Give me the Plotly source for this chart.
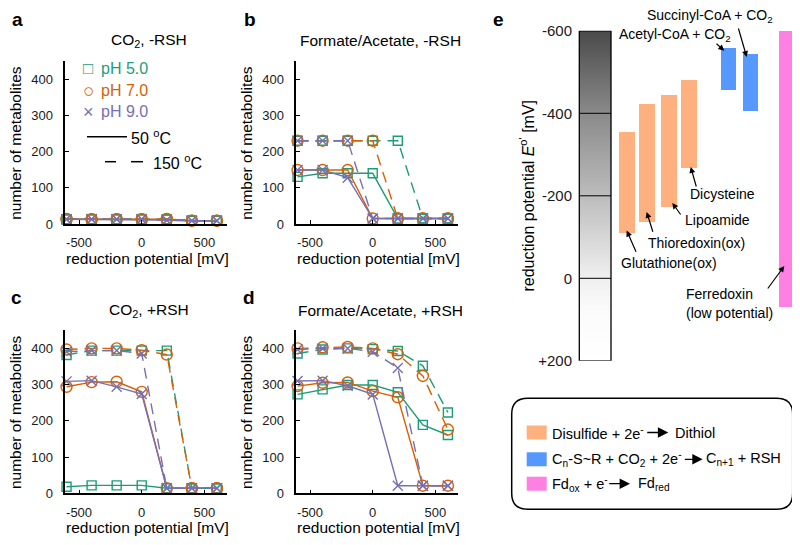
import plotly.graph_objects as go

W, H = 800, 545
OX, OY = 8, 8  # the page body adds an 8 px margin around the figure

# ---- data for panels a-d (number of metabolites) ----
potential_mv = [-600, -400, -200, 0, 200, 400, 600]
ph_names = ["pH 5.0", "pH 7.0", "pH 9.0"]

# rows: pH 5.0, pH 7.0, pH 9.0
a_50C = [[13, 13, 13, 13, 12, 9, 9], [13, 13, 13, 13, 13, 9, 9], [13, 13, 13, 13, 11, 9, 9]]
a_150C = [[13, 13, 13, 13, 13, 9, 9], [14, 13, 13, 13, 14, 9, 9], [13, 13, 13, 13, 10, 9, 9]]

b_50C = [[130, 140, 140, 140, 15, 15, 15], [149, 149, 149, 15, 15, 15, 15], [149, 149, 128, 15, 15, 15, 15]]
b_150C = [[230, 230, 230, 230, 230, 15, 15], [230, 230, 230, 230, 15, 15, 15], [230, 230, 230, 15, 15, 15, 15]]

c_50C = [[18, 22, 22, 22, 14, 14, 14], [294, 307, 308, 280, 14, 14, 14], [309, 311, 294, 274, 14, 14, 14]]
c_150C = [[382, 394, 394, 394, 394, 14, 14], [397, 400, 400, 395, 383, 14, 14], [391, 394, 394, 386, 14, 14, 14]]

d_50C = [[273, 287, 299, 299, 279, 189, 161], [296, 305, 306, 282, 265, 21, 21], [310, 311, 297, 273, 21, 21, 21]]
d_150C = [[386, 397, 400, 398, 393, 352, 223], [400, 403, 404, 400, 384, 324, 176], [397, 400, 400, 391, 346, 21, 21]]

panel_titles = ["CO<sub>2</sub>, -RSH", "Formate/Acetate, -RSH", "CO<sub>2</sub>, +RSH", "Formate/Acetate, +RSH"]

# ---- data for panel e (reduction potentials, mV) ----
scale_ticks = [-600, -400, -200, 0, 200]
scale_labels = ["-600", "-400", "-200", "0", "+200"]
disulfide_names = ["Glutathione(ox)", "Thioredoxin(ox)", "Lipoamide", "Dicysteine"]
disulfide_low = [-354, -422, -444, -481]
disulfide_high = [-110, -137, -174, -267]
thioester_names = ["Acetyl-CoA + CO<sub>2</sub>", "Succinyl-CoA + CO<sub>2</sub>"]
thioester_low = [-559, -544]
thioester_high = [-456, -406]
ferredoxin_low = [-600]
ferredoxin_high = [70]

FONT = "Liberation Sans, Arial, Helvetica, sans-serif"
colors = ["#1b9e77", "#d95f02", "#7570b3"]
symbols = ["square-open", "circle-open", "x-thin"]
msizes = [9, 11, 10]
MV_PX = 0.1253  # pixels per mV on panels a-d


def px(x):
    return (x - OX) / W


def py(y):
    return 1 - (y - OY) / H


fig = go.Figure()

# panel geometry in screen pixels: (left, right, top, bottom)
boxes = [(65.3, 227, 61, 224), (296.3, 458, 61, 224), (65.3, 227, 330.3, 493.3), (296.3, 458, 330.3, 493.3)]
panels = [(a_50C, a_150C), (b_50C, b_150C), (c_50C, c_150C), (d_50C, d_150C)]

for i, (solid, dashed) in enumerate(panels):
    n = i + 1
    xa = "x" if n == 1 else f"x{n}"
    ya = "y" if n == 1 else f"y{n}"
    for series, dash in ((solid, "solid"), (dashed, "11px,7px")):
        for k in range(3):
            fig.add_trace(go.Scatter(
                x=potential_mv, y=series[k], xaxis=xa, yaxis=ya,
                mode="lines+markers", cliponaxis=False, showlegend=False,
                line=dict(color=colors[k], width=1.4, dash=dash),
                marker=dict(symbol=symbols[k], size=msizes[k], color=colors[k],
                            line=dict(color=colors[k], width=1.4)),
            ))
    l, r, t, b = boxes[i]
    xkey = "xaxis" if n == 1 else f"xaxis{n}"
    ykey = "yaxis" if n == 1 else f"yaxis{n}"
    fig.layout[xkey] = dict(
        domain=[px(l), px(r)], range=[-610, -610 + (r - l) / MV_PX], anchor=ya, automargin=False,
        tickvals=[-500, 0, 500], ticktext=["-500", "0", "500"], ticks="inside", ticklen=4,
        tickcolor="black", showline=True, linecolor="black", linewidth=1.5,
        showgrid=False, zeroline=False, ticklabelstandoff=6,
        tickfont=dict(family=FONT, size=13, color="#1a1a1a"))
    fig.layout[ykey] = dict(
        domain=[py(b), py(t)], range=[0, 450], anchor=xa, automargin=False,
        tickvals=[0, 100, 200, 300, 400], ticks="inside", ticklen=4,
        tickcolor="black", showline=True, linecolor="black", linewidth=1.5,
        showgrid=False, zeroline=False, ticklabelstandoff=8,
        tickfont=dict(family=FONT, size=13, color="#1a1a1a"))

annotations = []


def text(x, y, s, size=16, **kw):
    d = dict(x=px(x), y=py(y), xref="paper", yref="paper", text=s, showarrow=False,
             xanchor="center", yanchor="middle",
             font=dict(family=FONT, size=size, color=kw.pop("color", "black")))
    d.update(kw)
    annotations.append(d)


def arrow(x0, y0, x1, y1, head=2, size=1.0, width=1.2):
    annotations.append(dict(x=px(x1), y=py(y1), xref="paper", yref="paper", text="",
                            showarrow=True, ax=x0 - x1, ay=y0 - y1, arrowhead=head,
                            arrowsize=size, arrowwidth=width, arrowcolor="black"))


# panel letters
for s, (x, y) in zip("abcde", [(17, 19), (250, 19), (16, 297), (249, 297), (498, 19)]):
    text(x, y, f"<b>{s}</b>", size=19)

# titles & axis labels
for i, (l, r, t, b) in enumerate(boxes):
    cx = 147 if i % 2 == 0 else 378
    text(cx + 2, t - 20, panel_titles[i], size=15.5)
    text(cx, b + 34, "reduction potential [mV]", size=15.5)
    text(l - 50, (t + b) / 2, "number of metabolites", size=15.5, textangle=-90)

# legend inside panel a
glyphs = [("\u25A1", 17), ("\u25CB", 19), ("\u00D7", 18)]
for k in range(3):
    g, gs = glyphs[k]
    text(88, [68, 90.7, 111.7][k], g, size=gs, color=colors[k])
    text(99, [68, 90.7, 111.7][k], ph_names[k], size=16, color=colors[k], xanchor="left")
text(129, 136.7, "50 <sup>o</sup>C", size=16, xanchor="left")
text(151, 161.7, "150 <sup>o</sup>C", size=16, xanchor="left")
shapes = [
    dict(type="line", xref="paper", yref="paper", x0=px(87), x1=px(127), y0=py(136.7), y1=py(136.7),
         line=dict(color="black", width=1.5)),
    dict(type="line", xref="paper", yref="paper", x0=px(105), x1=px(116), y0=py(161.7), y1=py(161.7),
         line=dict(color="black", width=1.5)),
    dict(type="line", xref="paper", yref="paper", x0=px(131), x1=px(143), y0=py(161.7), y1=py(161.7),
         line=dict(color="black", width=1.5)),
]

# ---- panel e ----
ORANGE, BLUE, PINK = "#ffb07f", "#5599ff", "#ff80e3"
fig.add_trace(go.Scatter(
    x=[579.3, 611, 611, 579.3, 579.3], y=[-600, -600, 200, 200, -600], xaxis="x5", yaxis="y5",
    mode="lines", fill="toself", showlegend=False, line=dict(color="black", width=1.3),
    fillgradient=dict(type="vertical", start=-600, stop=200,
                      colorscale=[[0, "#4a4a4a"], [0.25, "#8a8a8a"], [0.5, "#bcbcbc"],
                                  [0.74, "#eeeeee"], [0.85, "#fbfbfb"], [1, "#ffffff"]]),
))
for v in scale_ticks[1:-1]:
    shapes.append(dict(type="line", xref="x5", yref="y5", x0=579.3, x1=611, y0=v, y1=v,
                       line=dict(color="black", width=1)))

groups = [
    (disulfide_low, disulfide_high, [626.7, 646.7, 668.9, 689.0], ORANGE),
    (thioester_low, thioester_high, [728.5, 750.3], BLUE),
    (ferredoxin_low, ferredoxin_high, [786.3], PINK),
]
for low, high, xs, col in groups:
    fig.add_trace(go.Bar(
        x=xs, base=low, y=[h - lo for lo, h in zip(low, high)], width=15.6,
        xaxis="x5", yaxis="y5", marker=dict(color=col, line=dict(width=0)), showlegend=False))

fig.layout["xaxis5"] = dict(domain=[px(576), px(800)], range=[576, 800], anchor="y5", visible=False,
                            automargin=False)
fig.layout["yaxis5"] = dict(domain=[py(360.8), py(30.8)], range=[200, -600], anchor="x5",
                            automargin=False,
                            tickvals=scale_ticks, ticktext=scale_labels, ticks="", showline=False,
                            showgrid=False, zeroline=False, ticklabelstandoff=3,
                            tickfont=dict(family=FONT, size=15, color="#1a1a1a"))
text(526.7, 195.8, "reduction potential <i>E</i><sup>o'</sup> [mV]", size=16, textangle=-90)

# species labels with arrows
text(710, 16, thioester_names[1], size=14)
arrow(738, 27, 746.7, 57)
text(675, 35, thioester_names[0], size=14)
arrow(715, 42.5, 724.3, 50.7)
text(722.7, 194.3, disulfide_names[3], size=14)
arrow(696.7, 188, 690.7, 167)
text(717.7, 220, disulfide_names[2], size=14)
arrow(681.7, 216, 672.3, 203)
text(696.7, 243.3, disulfide_names[1], size=14)
arrow(653.3, 233.3, 646.7, 212)
text(669.3, 263.3, disulfide_names[0], size=14)
arrow(636.7, 253.3, 626.7, 230.5)
text(684, 294.3, "Ferredoxin", size=14, xanchor="left")
text(684, 313.3, "(low potential)", size=14, xanchor="left")
arrow(766.7, 290, 784.3, 266)

# key box
bx0, bx1, by0, by1, rr = 511.7, 792.7, 398.3, 509.3, 16
pts = [
    f"M{px(bx0 + rr)},{py(by0)}", f"L{px(bx1 - rr)},{py(by0)}",
    f"Q{px(bx1)},{py(by0)} {px(bx1)},{py(by0 + rr)}", f"L{px(bx1)},{py(by1 - rr)}",
    f"Q{px(bx1)},{py(by1)} {px(bx1 - rr)},{py(by1)}", f"L{px(bx0 + rr)},{py(by1)}",
    f"Q{px(bx0)},{py(by1)} {px(bx0)},{py(by1 - rr)}", f"L{px(bx0)},{py(by0 + rr)}",
    f"Q{px(bx0)},{py(by0)} {px(bx0 + rr)},{py(by0)}", "Z",
]
shapes.append(dict(type="path", xref="paper", yref="paper", path=" ".join(pts),
                   line=dict(color="black", width=1.5)))
key_rows = [
    (ORANGE, 432.5, "Disulfide + 2e<sup>-</sup>", (645.7, 668.3), "Dithiol", 673.3),
    (BLUE, 459.3, "C<sub>n</sub>-S~R + CO<sub>2</sub> + 2e<sup>-</sup>", (683.3, 702.7),
     "C<sub>n+1</sub> + RSH", 704.0),
    (PINK, 483.7, "Fd<sub>ox</sub> + e<sup>-</sup>", (607.7, 630.0), "Fd<sub>red</sub>", 636.0),
]
for col, yy, left, (a0, a1), right, rx in key_rows:
    shapes.append(dict(type="rect", xref="paper", yref="paper", x0=px(526.7), x1=px(546.7),
                       y0=py(yy - 7), y1=py(yy + 7), fillcolor=col, line=dict(width=0)))
    text(550, yy, left, size=14.5, xanchor="left")
    text(rx, yy, right, size=14.5, xanchor="left")
    arrow(a0, yy, a1, yy, head=2, size=1.6, width=1.3)

fig.update_layout(
    width=W, height=H, margin=dict(l=0, r=0, t=0, b=0),
    paper_bgcolor="white", plot_bgcolor="rgba(0,0,0,0)",
    font=dict(family=FONT), showlegend=False, bargap=0,
    annotations=annotations, shapes=shapes,
)

fig.write_html("out.html")
